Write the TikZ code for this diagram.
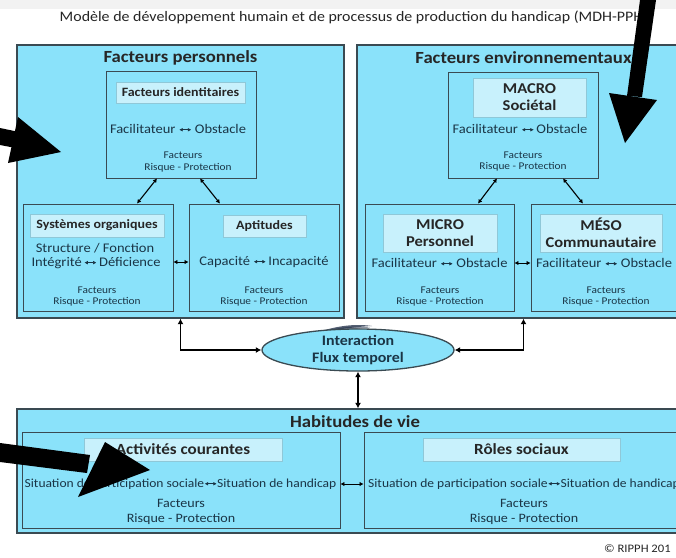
\documentclass[tikz,border=0pt]{standalone}
\usepackage{fontspec}
\setmainfont{Carlito}[FakeStretch=1.1]
\usetikzlibrary{arrows.meta,shapes.geometric,calc}
\definecolor{cyanfill}{HTML}{8AE2FA}
\definecolor{labfill}{HTML}{C8F1FC}
\definecolor{edge}{HTML}{3A4A52}
\definecolor{labedge}{HTML}{8FC8D8}
\definecolor{txt}{HTML}{1A3546}
\definecolor{swoosh}{HTML}{1C2A44}
\newcommand\dar{\tikz[baseline=-0.6ex,x=1pt,y=1pt]\draw[line width=0.9pt,{Latex[length=3.4pt,width=3.8pt]}-{Latex[length=3.4pt,width=3.8pt]}] (0,0) -- (12,0);}
\tikzset{
  bigbox/.style={draw=edge,line width=1.3pt,fill=cyanfill,inner sep=0pt},
  subbox/.style={draw=edge,line width=0.9pt,fill=cyanfill,inner sep=0pt},
  labbox/.style={draw=labedge,line width=0.7pt,fill=labfill,inner sep=0pt},
  head/.style={font=\fontsize{17}{19}\selectfont\bfseries,text=black!85,inner sep=0pt},
  lab/.style={font=\fontsize{12.7}{14}\selectfont\bfseries,text=black!85,inner sep=0pt,align=center},
  biglab/.style={font=\fontsize{15}{17}\selectfont\bfseries,text=black!85,inner sep=0pt,align=center},
  mid/.style={font=\fontsize{13.2}{15}\selectfont,text=txt,inner sep=0pt},
  small/.style={font=\fontsize{10.3}{12}\selectfont,text=txt,inner sep=0pt},
  botsmall/.style={font=\fontsize{12.8}{14}\selectfont,text=txt,inner sep=0pt},
  botmid/.style={font=\fontsize{12.3}{14}\selectfont,text=txt,inner sep=0pt},
  conn/.style={line width=1.1pt,{Latex[length=4pt,width=4.5pt]}-{Latex[length=4pt,width=4.5pt]}},
  thick conn/.style={line width=1.7pt,{Latex[length=5.5pt,width=6pt]}-{Latex[length=5.5pt,width=6pt]}},
  marker/.style={fill=black,draw=none}
}
\begin{document}
\begin{tikzpicture}[x=1pt,y=-1pt]
\path[use as bounding box,clip] (0,0) rectangle (676,557);
\fill[white] (0,0) rectangle (676,557);
\fill[black!5] (0,0) rectangle (676,9);
% title
\node[font=\fontsize{14.5}{16}\selectfont,text=black!85,inner sep=0pt] (title) at (354,17) {Modèle de développement humain et de processus de production du handicap (MDH-PPH)};
% Facteurs personnels
\node[bigbox,minimum width=327pt,minimum height=273pt] (fp) at (180.5,181.5) {};
\node[head] (fpt) at (180.5,58) {Facteurs personnels};
\node[subbox,minimum width=150pt,minimum height=107pt] (fi) at (181,124.5) {};
\node[labbox,minimum width=129pt,minimum height=21pt] (fil) at (180.5,92.5) {};
\node[lab] at (fil) {Facteurs identitaires};
\node[mid] (fim) at (178,129) {Facilitateur \dar\ Obstacle};
\node[small] (fis1) at (183,155) {Facteurs};
\node[small] (fis2) at (188,168) {Risque - Protection};
\node[subbox,minimum width=150pt,minimum height=107pt] (so) at (98,257.5) {};
\node[labbox,minimum width=134pt,minimum height=23pt] (sol) at (97,225.5) {};
\node[lab] at (sol) {Systèmes organiques};
\node[mid] (som1) at (95,248) {Structure / Fonction};
\node[mid] (som2) at (96,263) {Intégrité\,\dar\,Déficience};
\node[small] (sos1) at (97,290) {Facteurs};
\node[small] (sos2) at (97,302) {Risque - Protection};
\node[subbox,minimum width=150pt,minimum height=107pt] (ap) at (264,257.5) {};
\node[labbox,minimum width=83pt,minimum height=22pt] (apl) at (264.5,226) {};
\node[lab] at (apl) {Aptitudes};
\node[mid] (apm) at (264,262) {Capacité \dar\,Incapacité};
\node[small] (aps1) at (264,290) {Facteurs};
\node[small] (aps2) at (264,302) {Risque - Protection};
% Facteurs environnementaux
\node[bigbox,minimum width=333pt,minimum height=273pt] (fe) at (523.5,181.5) {};
\node[head] (fet) at (523.5,58) {Facteurs environnementaux};
\node[subbox,minimum width=150pt,minimum height=106pt] (ma) at (523,125) {};
\node[labbox,minimum width=113pt,minimum height=39pt] (mal) at (529.5,97.5) {};
\node[biglab] at (mal) {MACRO\\Sociétal};
\node[mid] (mam) at (520,129) {Facilitateur \dar\,Obstacle};
\node[small] (mas1) at (523,155) {Facteurs};
\node[small] (mas2) at (523,167) {Risque - Protection};
\node[subbox,minimum width=149pt,minimum height=107pt] (mi) at (439.5,257.5) {};
\node[labbox,minimum width=114pt,minimum height=38pt] (mil) at (440,233) {};
\node[biglab] at (mil) {MICRO\\Personnel};
\node[mid] (mim) at (439.5,263) {Facilitateur \dar\ Obstacle};
\node[small] (mis1) at (440,290) {Facteurs};
\node[small] (mis2) at (440,302) {Risque - Protection};
\node[subbox,minimum width=150pt,minimum height=107pt] (me) at (606,257.5) {};
\node[labbox,minimum width=122pt,minimum height=38pt] (mel) at (601,233) {};
\node[biglab] at (mel) {MÉSO\\Communautaire};
\node[mid] (mem) at (604,263) {Facilitateur \dar\ Obstacle};
\node[small] (mes1) at (606,290) {Facteurs};
\node[small] (mes2) at (606,302) {Risque - Protection};
% connectors inside
\draw[conn] ([xshift=-24pt]fi.south) -- ([xshift=39pt]so.north);
\draw[conn] ([xshift=19pt]fi.south) -- ([xshift=-44pt]ap.north);
\draw[conn,line width=0.9pt] ([yshift=-4.5pt]so.east) -- ([yshift=-4.5pt]ap.west);
\draw[conn] ([xshift=-26pt]ma.south) -- ([xshift=38.5pt]mi.north);
\draw[conn] ([xshift=40pt]ma.south) -- ([xshift=-23pt]me.north);
\draw[conn,line width=0.9pt] ([yshift=-5.5pt]mi.east) -- ([yshift=-5.5pt]me.west);
% dark streak between the boxes
\fill[swoosh,opacity=0.75] (312,334) .. controls (332,327) and (352,323) .. (372,326) .. controls (352,327) and (334,330) .. (312,334) -- cycle;
\fill[swoosh,opacity=0.5] (318,333) .. controls (335,328) and (352,325) .. (370,327.5) .. controls (352,329) and (334,332) .. (318,335) -- cycle;
% interaction
\node[ellipse,draw=edge,line width=1.3pt,fill=cyanfill,minimum width=192pt,minimum height=42pt,inner sep=0pt] (ell) at (358,350) {};
\node[biglab,font=\fontsize{14.5}{17}\selectfont\bfseries,text=txt] at (ell) {Interaction\\Flux temporel};
\draw[thick conn] (fp.south) |- (ell.west);
\draw[thick conn] (fe.south) |- (ell.east);
% Habitudes de vie
\node[bigbox,minimum width=676pt,minimum height=124pt] (hv) at (355,471) {};
\draw[thick conn] (ell.south) -- (ell.south |- hv.north);
\node[head] (hvt) at (355,422) {Habitudes de vie};
\node[subbox,minimum width=318pt,minimum height=96pt] (ac) at (181,480) {};
\node[labbox,minimum width=198pt,minimum height=23pt] (acl) at (183,449.5) {};
\node[lab,font=\fontsize{15.5}{17}\selectfont\bfseries] at (acl) {Activités courantes};
\node[botmid] (acm) at (180.5,484) {Situation de participation sociale\dar Situation de handicap};
\node[botsmall] (acs1) at (181,503) {Facteurs};
\node[botsmall] (acs2) at (181,519) {Risque - Protection};
\node[subbox,minimum width=324pt,minimum height=96pt] (rs) at (526,480) {};
\node[labbox,minimum width=197pt,minimum height=23pt] (rsl) at (521.5,449.5) {};
\node[lab,font=\fontsize{15.5}{17}\selectfont\bfseries] at (rsl) {Rôles sociaux};
\node[botmid] (rsm) at (524,484) {Situation de participation sociale\dar Situation de handicap};
\node[botsmall] (rss1) at (524,503) {Facteurs};
\node[botsmall] (rss2) at (524,519) {Risque - Protection};
\draw[conn,line width=0.9pt] ([yshift=-4pt]ac.east) -- ([yshift=-4pt]rs.west);
% copyright
\node[font=\fontsize{11.5}{13}\selectfont,text=black!85,inner sep=0pt,anchor=west] (copy) at (604,549) {© RIPPH 201};
% annotation arrows
\fill[marker] (640,0) -- (656,0) -- (642,97) -- (627,96) -- cycle;
\fill[marker] (609,93) -- (657,100) -- (625,143) -- cycle;
\fill[marker] (0,128) -- (24,133) -- (21,149) -- (0,145) -- cycle;
\fill[marker] (18,117) -- (61,152) -- (8,163) -- cycle;
\fill[marker] (0,443) -- (90,455) -- (87,473) -- (0,462) -- cycle;
\fill[marker] (105,442) -- (150,470) -- (78,497) -- cycle;
\end{tikzpicture}
\end{document}
